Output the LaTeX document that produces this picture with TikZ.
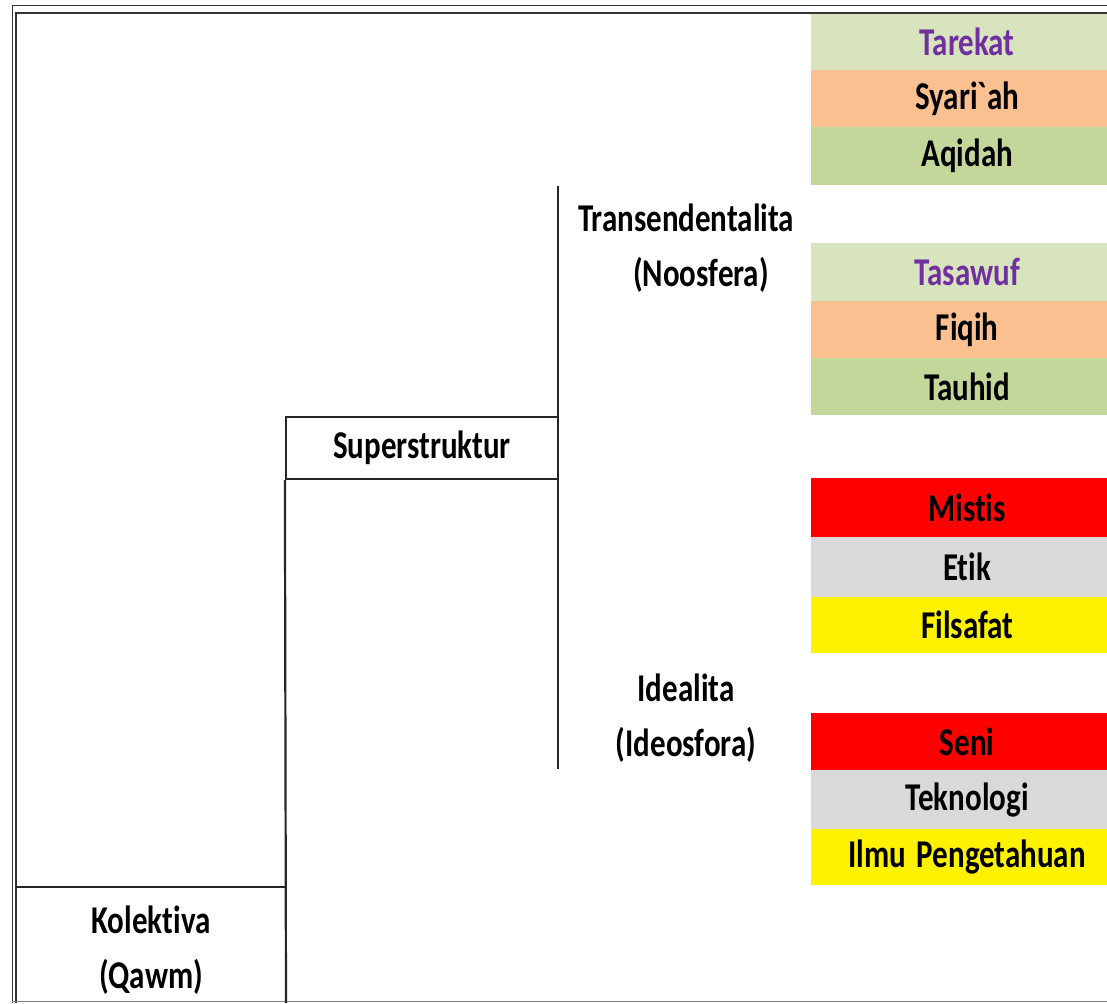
\documentclass[tikz,border=0pt]{standalone}
\usepackage{fontspec}
\usepackage{graphicx}
\setmainfont{Carlito}[Ligatures={TeXOff,NoCommon}]
\definecolor{lgreen}{HTML}{D7E4BD}
\definecolor{lorange}{HTML}{FAC090}
\definecolor{mgreen}{HTML}{C4D79B}
\definecolor{lgray}{HTML}{D9D9D9}
\definecolor{purp}{HTML}{7030A0}
\definecolor{linec}{HTML}{262626}
\newcommand\tx[1]{\scalebox{1}[1.27]{#1}}
\begin{document}
\begin{tikzpicture}[x=1pt,y=-1pt,
  lbl/.style={inner sep=0pt, font=\bfseries\fontsize{31}{38}\selectfont},
  cell/.style={lbl, anchor=north west, minimum width=312pt, text width=312pt, align=center},
  ln/.style={draw=linec, line width=2.2pt},
  brd/.style={draw=black!80, line width=1.6pt}]
\useasboundingbox (0,0) rectangle (1107,1003);
\begin{scope}
\clip (0,0) rectangle (1107,1003);
\fill[white] (0,0) rectangle (1107,1003);
% coloured cells
\node[cell, fill=lgreen, minimum height=56pt, text=purp] (tarekat) at (811,14) {\tx{Tarekat}};
\node[cell, fill=lorange, minimum height=57pt] (syariah) at (811,70) {\tx{Syari\symbol{96}ah}};
\node[cell, fill=mgreen, minimum height=58pt] (aqidah) at (811,127) {\tx{Aqidah}};
\node[cell, fill=lgreen, minimum height=58pt, text=purp] (tasawuf) at (811,243) {\tx{Tasawuf}};
\node[cell, fill=lorange, minimum height=57pt] (fiqih) at (811,301) {\tx{Fiqih}};
\node[cell, fill=mgreen, minimum height=57pt] (tauhid) at (811,358) {\tx{Tauhid}};
\node[cell, fill=red, minimum height=59pt] (mistis) at (811,478) {\tx{Mistis}};
\node[cell, fill=lgray, minimum height=60pt] (etik) at (811,537) {\tx{Etik}};
\node[cell, fill=yellow, minimum height=56pt] (filsafat) at (811,597) {\tx{Filsafat}};
\node[cell, fill=red, minimum height=57pt] (seni) at (811,713) {\tx{Seni}};
\node[cell, fill=lgray, minimum height=59pt] (teknologi) at (811,770) {\tx{Teknologi}};
\node[cell, fill=yellow, minimum height=56pt] (ilmu) at (811,829) {\tx{Ilmu Pengetahuan}};
% outer double border
\draw[brd] (12.5,1003) -- (12.5,5.5) -- (1107,5.5);
\draw[brd] (16,1003) -- (16,13) -- (1107,13);
\draw[draw=gray, line width=1.5pt] (12,1001.5) -- (1107,1001.5);
\end{scope}
% labels
\node[lbl] (trans) at (686,218) {\tx{Transendentalita}};
\node[lbl] (noos) at (701,275) {\tx{(Noosfera)}};
\node[lbl] (ideal) at (686,688) {\tx{Idealita}};
\node[lbl] (ideos) at (686,745) {\tx{(Ideosfora)}};
% superstruktur box
\node[lbl, draw=linec, line width=2.2pt, minimum width=272pt, minimum height=62pt] (sup) at (422,448) {\tx{Superstruktur}};
\node[lbl] (kol1) at (151,920) {\tx{Kolektiva}};
\node[lbl] (kol2) at (151,977) {\tx{(Qawm)}};
% tree lines
\coordinate (vtop) at (558,186);
\coordinate (vbot) at (558,769);
\coordinate (kolL) at (16,887);
\coordinate (kolR) at (286,887);
\coordinate (bot) at (286,1003);
\draw[ln] (vtop) -- (vbot);
\draw[ln] (sup.south west) -- (bot);
\draw[ln] (kolL) -- (kolR);
\end{tikzpicture}
\end{document}
